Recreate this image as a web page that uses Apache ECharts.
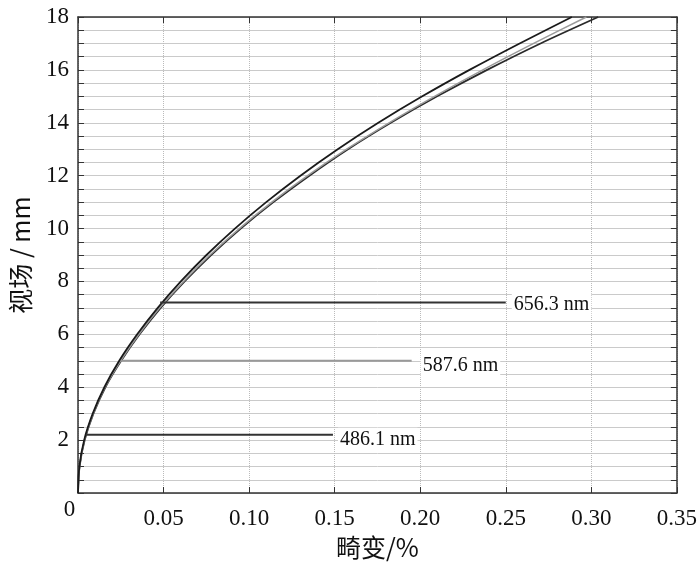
<!DOCTYPE html>
<html>
<head>
<meta charset="utf-8">
<script src="https://cdn.jsdelivr.net/npm/echarts@6/dist/echarts.min.js"></script>
<style>
html, body { margin: 0; padding: 0; background: #fff; }
#chartmain { width: 700px; height: 565px; }
</style>
</head>
<body>
<div id="chartmain"></div>
<script>
// 视场 (mm), 各曲线共用
var fieldMm = [0, 1, 2, 3, 4, 5, 6, 7, 8, 9, 10, 11, 12, 13, 14, 15, 16, 17, 18];
// 畸变 (%) 三条曲线
var distUpper = [0, 0.0008, 0.0036, 0.0086, 0.0154, 0.0241, 0.0346, 0.0466, 0.0601, 0.0751, 0.0917, 0.1100, 0.1300, 0.1518, 0.1755, 0.2012, 0.2288, 0.2581, 0.2886];
var distMid   = [0, 0.0009, 0.0038, 0.0089, 0.0158, 0.0249, 0.0356, 0.0478, 0.0617, 0.0771, 0.0943, 0.1133, 0.1342, 0.1570, 0.1818, 0.2084, 0.2366, 0.2663, 0.2971];
var distLower = [0, 0.0009, 0.0039, 0.0090, 0.0160, 0.0252, 0.0360, 0.0483, 0.0623, 0.0778, 0.0951, 0.1142, 0.1352, 0.1578, 0.1828, 0.2099, 0.2391, 0.2703, 0.3040];
// 波长标注线
var markNames = ['656.3 nm', '587.6 nm', '486.1 nm'];
var markField = [7.2, 5.0, 2.2];
var markStart = [0.048, 0.025, 0.0047];
var markEnd   = [0.25, 0.195, 0.149];

var serif = 'Liberation Serif';

function pairs(xs) {
	var out = [];
	for (var i = 0; i < xs.length; i++) out.push([xs[i], fieldMm[i]]);
	return out;
}

var curveStyle = [
	{ data: distUpper, color: '#1a1a1a' },
	{ data: distMid, color: '#9a9a9a' },
	{ data: distLower, color: '#2a2a2a' }
];
var markColor = ['#333', '#999', '#333'];
var markGap = [6, 9, 5];
var markOffset = [[0, 2], [0, 5], [0, 5]];

var series = [];
curveStyle.forEach(function(c, i) {
	series.push({
		name: 'curve' + i,
		type: 'line',
		data: pairs(c.data),
		smooth: 0.3,
		showSymbol: false,
		lineStyle: { color: c.color, width: i === 1 ? 1.5 : 1.8 },
		z: 3 - i
	});
});
markNames.forEach(function(n, i) {
	series.push({
		name: n,
		type: 'line',
		data: [[markStart[i], markField[i]], [markEnd[i], markField[i]]],
		showSymbol: false,
		lineStyle: { color: markColor[i], width: 2 },
		endLabel: {
			show: true,
			formatter: n,
			distance: markGap[i],
			offset: markOffset[i],
			fontFamily: serif,
			fontSize: 20,
			color: '#111',
			backgroundColor: '#fff',
			padding: [2, 2, 2, 2]
		}
	});
});

var option = {
	animation: false,
	backgroundColor: '#fff',
	grid: { left: 77, right: 22, top: 17, bottom: 72, containLabel: false },
	xAxis: [{
		type: 'value',
		min: 0,
		max: 0.35,
		interval: 0.05,
		position: 'bottom',
		name: '畸变/%',
		nameLocation: 'middle',
		nameGap: 41,
		nameTextStyle: { fontFamily: 'Noto Sans CJK SC', fontSize: 25, color: '#111' },
		axisLine: { show: true, onZero: false, lineStyle: { color: '#333', width: 1.5 } },
		axisTick: { show: true, inside: true, length: 6, lineStyle: { color: '#333' } },
		axisLabel: {
			margin: 14,
			fontFamily: serif,
			fontSize: 23,
			color: '#111',
			formatter: function(v) { return v === 0 ? '{z|0}' : v.toFixed(2); },
			rich: { z: { fontFamily: serif, fontSize: 23, color: '#111', lineHeight: 5, padding: [0, 17, 0, 0] } }
		},
		splitLine: { show: true, lineStyle: { color: '#bbb', type: 'dotted', width: 1 } }
	}, {
		type: 'value',
		min: 0,
		max: 0.35,
		interval: 0.05,
		position: 'top',
		axisLine: { show: true, onZero: false, lineStyle: { color: '#333', width: 1.5 } },
		axisTick: { show: true, inside: true, length: 6, lineStyle: { color: '#333' } },
		axisLabel: { show: false },
		splitLine: { show: false }
	}],
	yAxis: [{
		type: 'value',
		min: 0,
		max: 18,
		interval: 2,
		position: 'left',
		name: '视场 / mm',
		nameLocation: 'middle',
		nameGap: 45,
		nameTextStyle: { fontFamily: 'Noto Sans CJK SC', fontSize: 25, color: '#111' },
		axisLine: { show: true, onZero: false, lineStyle: { color: '#333', width: 1.5 } },
		axisTick: { show: true, inside: true, length: 6, lineStyle: { color: '#333' } },
		minorTick: { show: true, splitNumber: 4, length: 6, lineStyle: { color: '#333' } },
		axisLabel: {
			margin: 9,
			fontFamily: serif,
			fontSize: 23,
			color: '#111',
			showMinLabel: false
		},
		splitLine: { show: true, lineStyle: { color: '#cacaca', width: 1 } },
		minorSplitLine: { show: true, lineStyle: { color: '#cacaca', width: 1 } }
	}, {
		type: 'value',
		min: 0,
		max: 18,
		interval: 2,
		position: 'right',
		axisLine: { show: true, onZero: false, lineStyle: { color: '#333', width: 1.5 } },
		axisTick: { show: true, inside: true, length: 6, lineStyle: { color: '#333' } },
		minorTick: { show: true, splitNumber: 4, length: 6, lineStyle: { color: '#333' } },
		axisLabel: { show: false },
		splitLine: { show: false }
	}],
	series: series
};

var myChart = echarts.init(document.getElementById('chartmain'));
myChart.setOption(option);
</script>
</body>
</html>
